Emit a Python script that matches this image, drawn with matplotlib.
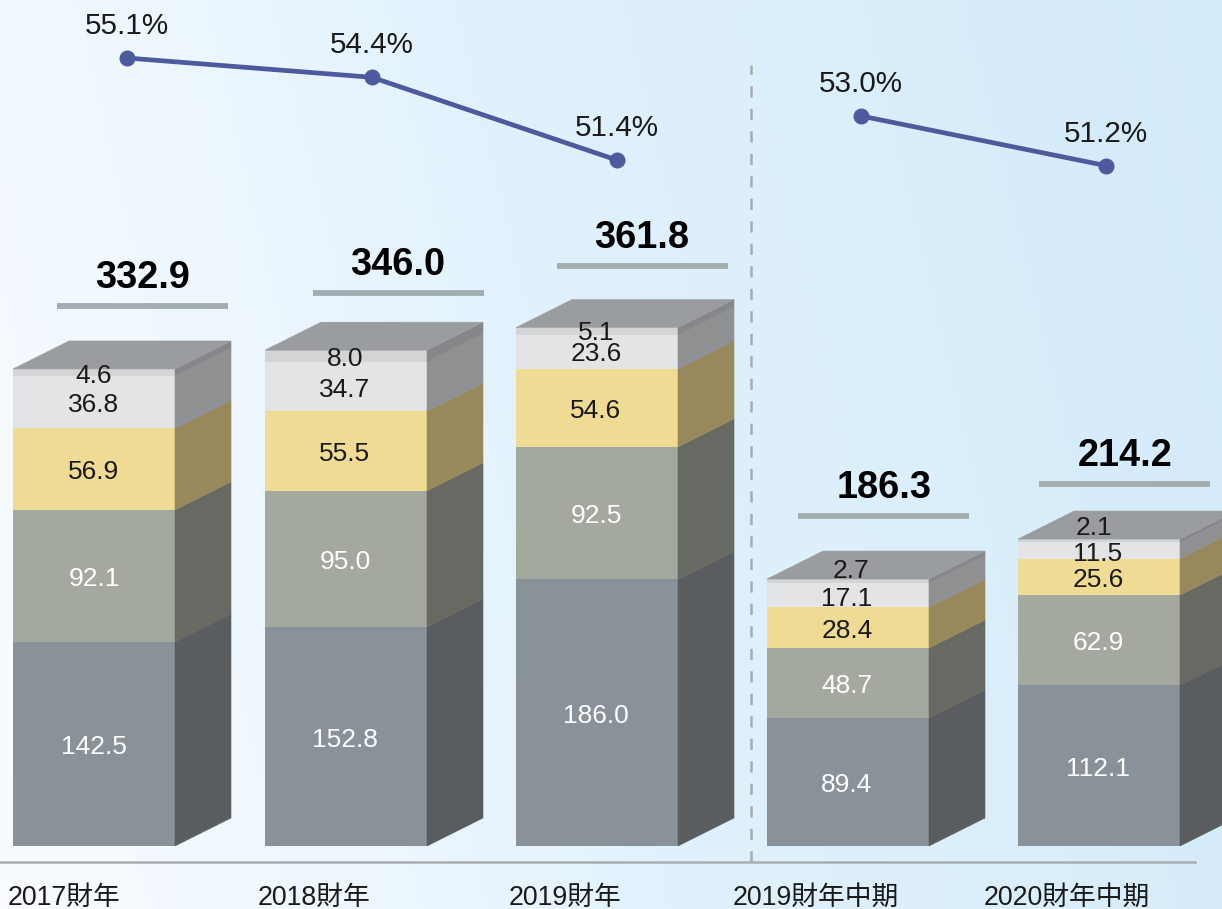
#!/usr/bin/env python3
# stacked pseudo-3D bars with ratio line on top
import matplotlib
matplotlib.use('Agg')
import matplotlib.pyplot as plt
from matplotlib.colors import LinearSegmentedColormap
from matplotlib.patches import Polygon
import numpy as np

plt.rcParams['font.family'] = ['Liberation Sans', 'Noto Sans CJK JP', 'DejaVu Sans']

periods = ['2017財年', '2018財年', '2019財年', '2019財年中期', '2020財年中期']
seg_a = [142.5, 152.8, 186.0, 89.4, 112.1]
seg_b = [92.1, 95.0, 92.5, 48.7, 62.9]
seg_c = [56.9, 55.5, 54.6, 28.4, 25.6]
seg_d = [36.8, 34.7, 23.6, 17.1, 11.5]
seg_e = [4.6, 8.0, 5.1, 2.7, 2.1]
totals = [332.9, 346.0, 361.8, 186.3, 214.2]
ratio_full = [55.1, 54.4, 51.4]
ratio_half = [53.0, 51.2]

W, H = 1222, 909
PX = 1.433      # pixels per value unit
PCT = 27.6      # pixels per percent point
BASE = 846
front = ['#8a9299', '#a3a99f', '#efdb94', '#e3e4e6', '#d2d4d6']
side = ['#595d5f', '#666a63', '#97895c', '#8e9091', '#858789']
top_face = '#9a9da0'
txt_col = ['white', 'white', '#1a1a1a', '#1a1a1a', '#1a1a1a']
bar_left = [13, 265, 516, 767, 1018]
bar_w = 162
depth_x, depth_y = 56, 28
label_x = [94, 345, 596, 847, 1098]
# top segments' labels don't sit on the segment centre
top_shift = [[3, 3, 3, 3, 4], [3, 3, 3, 3, 3], [3, 3, 3, 2, 2], [3, 3, 3, 4, -10], [3, 3, 3, 4, -13]]
top_dx = [0, 0, 0, 4, -4]
total_x = [143, 398, 642, 884, 1125]
rule_left = [57, 313, 557, 798, 1039]
rule_gap = [63, 57, 62, 63, 55]
line_x = [127, 372, 617, 861, 1106]
xlab_x = [64, 314, 565, 816, 1067]

fig = plt.figure(figsize=(W / 100, H / 100), dpi=100)
ax = fig.add_axes((0, 0, 1, 1))
ax.set_xlim(0, W)
ax.set_ylim(-(H - BASE) / PX, BASE / PX)
ax.axis('off')

# background gradient, pale on the left to light blue on the right
cmap = LinearSegmentedColormap.from_list('bg', ['#f8fcff', '#eef7fe', '#e0f1fc', '#daeefb', '#d3eafa'])
xx, yy = np.meshgrid(np.linspace(0, 1, 300), np.linspace(0, 1, 200))
ax.imshow(xx * 0.85 + (1 - yy) * 0.15, cmap=cmap, extent=(0, W, -(H - BASE) / PX, BASE / PX),
          aspect='auto', zorder=0, vmin=0, vmax=1)

dy = depth_y / PX
segs = [seg_a, seg_b, seg_c, seg_d, seg_e]
for i in range(len(periods)):
    x0 = bar_left[i]
    x1 = x0 + bar_w
    bottom = 0
    for k, seg in enumerate(segs):
        v = seg[i]
        ax.bar(x0, v, bar_w, bottom=bottom, align='edge', color=front[k], zorder=2)
        ax.add_patch(Polygon([(x1, bottom), (x1 + depth_x, bottom + dy), (x1 + depth_x, bottom + v + dy), (x1, bottom + v)],
                             closed=True, fc=side[k], ec=side[k], lw=0.4, zorder=2))
        ypx = BASE - (bottom + v / 2) * PX + top_shift[i][k]
        lx = label_x[i] + (top_dx[i] if k == 4 else 0)
        ax.text(lx, (BASE - ypx) / PX, '%.1f' % v, color=txt_col[k], fontsize=19,
                ha='center', va='center', zorder=4)
        bottom += v
    ax.add_patch(Polygon([(x0, bottom), (x0 + depth_x, bottom + dy), (x1 + depth_x, bottom + dy), (x1, bottom)],
                         closed=True, fc=top_face, ec=top_face, lw=0.4, zorder=3))
    # total with the rule under it
    rule_y = totals[i] + rule_gap[i] / PX
    ax.plot([rule_left[i], rule_left[i] + 171], [rule_y, rule_y], color='#a2adb0', lw=4.2, solid_capstyle='butt', zorder=3)
    ax.text(total_x[i], rule_y + 28 / PX, '%.1f' % totals[i], fontsize=27.3, fontweight='bold', color='black',
            ha='center', va='center', zorder=4)
    ax.text(xlab_x[i], -(898 - BASE) / PX, periods[i], fontsize=19.3, color='#1a1a1a', ha='center', va='center', zorder=4)

# axis line and the separator between full year and half year
ax.plot([0, 1195], [-(862 - BASE) / PX] * 2, color='#a8aeb0', lw=1.8, zorder=1)
ax.plot([751, 751], [-(862 - BASE) / PX, (BASE - 65) / PX], color='#a7adb0', lw=1.8, dashes=(4.5, 4.5), zorder=1)

# ratio line uses its own scale
ax2 = ax.twinx()
ax2.set_ylim(55.1 - (H - 58) / PCT, 55.1 + 58 / PCT)
ax2.axis('off')
for xs, ys in ((line_x[:3], ratio_full), (line_x[3:], ratio_half)):
    ax2.plot(xs, ys, color='#4d5a9e', lw=3.4, marker='o', ms=10.5, zorder=5)
    for x, v in zip(xs, ys):
        ax2.text(x, v + 32 / PCT, '%.1f%%' % v, fontsize=21.3, color='#1a1a1a', ha='center', va='center')

fig.savefig('out.png', dpi=100)
